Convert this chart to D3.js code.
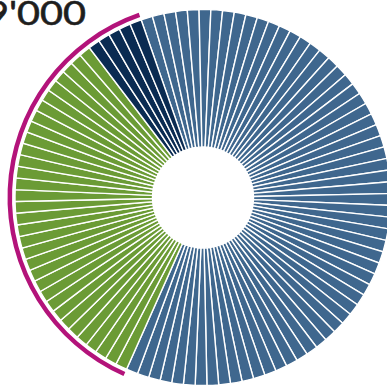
<!DOCTYPE html>
<html>
<head>
<meta charset="utf-8">
<script src="https://cdn.jsdelivr.net/npm/d3@7"></script>
<style>
  html, body { margin: 0; padding: 0; background: #fff; overflow: hidden; }
  svg { display: block; }
</style>
</head>
<body>
<svg id="chart" width="387" height="385"></svg>
<script>
// ---- data ----
const categories = ["Blue", "Green", "Navy"];
const unitCounts = [62, 33, 5];           // number of unit slices per group
const colors = ["#3F678E", "#6B9B35", "#0A2B52"];
const highlighted = ["Green", "Navy"];    // groups marked by the outer arc
const titleLabel = "9'000";

// ---- layout ----
const width = 387, height = 385;
const cx = 203, cy = 197.5;
const innerR = 50.5, outerR = 188;
const startDeg = -19.2;

const svg = d3.select("#chart");
const g = svg.append("g").attr("transform", `translate(${cx},${cy})`);

// expand counts into unit slices
const units = [];
categories.forEach((c, i) => {
  for (let k = 0; k < unitCounts[i]; k++) units.push({ cat: c, idx: k });
});

const color = d3.scaleOrdinal().domain(categories).range(colors);

const pie = d3.pie()
  .value(() => 1)
  .sort(null)
  .startAngle(startDeg * Math.PI / 180)
  .endAngle(startDeg * Math.PI / 180 + 2 * Math.PI);

const arcs = pie(units);
const arc = d3.arc().innerRadius(innerR).outerRadius(outerR);

g.selectAll("path.slice")
  .data(arcs)
  .join("path")
  .attr("class", "slice")
  .attr("d", arc)
  .attr("fill", d => color(d.data.cat))
  .attr("stroke", "#fff")
  .attr("stroke-width", 1.4)
  .attr("stroke-linejoin", "miter");

// outer highlight arc spanning highlighted groups
const hl = arcs.filter(d => highlighted.includes(d.data.cat));
const hlStart = d3.min(hl, d => d.startAngle);
const hlEnd = d3.max(hl, d => d.endAngle);
g.append("path")
  .attr("d", d3.arc().innerRadius(191).outerRadius(195.5)({ startAngle: hlStart, endAngle: hlEnd }))
  .attr("fill", "#B3137A");

// title text (cropped at left edge, as in the reference)
svg.append("text")
  .attr("x", 86)
  .attr("y", 25)
  .attr("text-anchor", "end")
  .attr("font-family", "Lato, 'Open Sans', sans-serif")
  .attr("font-size", 33)
  .attr("fill", "#1e1e1e")
  .attr("stroke", "#1e1e1e")
  .attr("stroke-width", 0.6)
  .attr("transform", "translate(86,0) scale(1.2,1) translate(-86,0)")
  .text(titleLabel);
</script>
</body>
</html>
